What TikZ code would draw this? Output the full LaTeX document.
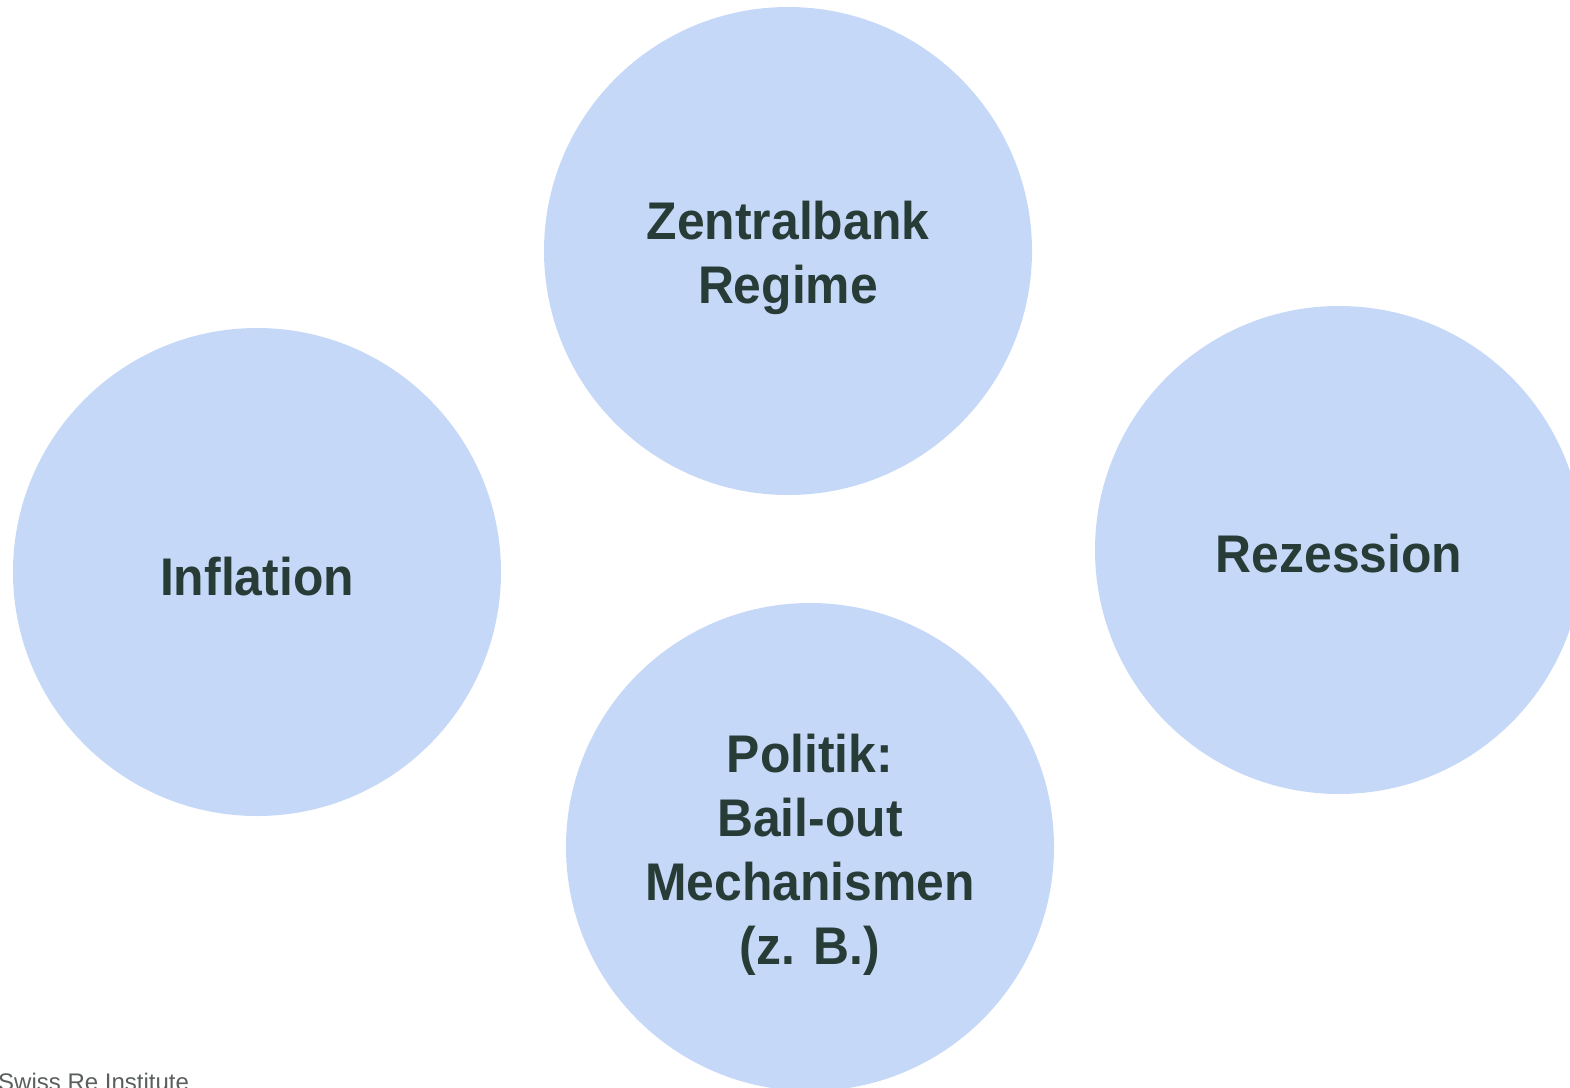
\documentclass[tikz,border=0pt]{standalone}
\usepackage{fontspec}
\setmainfont{Liberation Sans}
\newfontfamily\labelfont[FakeStretch=0.94]{Liberation Sans Bold}
\definecolor{bubble}{HTML}{C6D8F8}
\definecolor{labeltext}{HTML}{273C37}
\definecolor{credit}{HTML}{5A5F5E}
\begin{document}
\begin{tikzpicture}[x=1pt,y=-1pt,
  bubblenode/.style={circle, fill=bubble, draw=none, inner sep=0pt,
    minimum size=488pt},
  bubbletext/.style={inner sep=0pt, align=center, text=labeltext,
    font=\labelfont\fontsize{53}{64}\selectfont}]
  \clip (0,0) rectangle (1570,1087);
  \useasboundingbox (0,0) rectangle (1570,1087);
  % the four bubbles
  \node[bubblenode] (zentral) at (788,251) {};
  \node[bubblenode] (inflation) at (257,572) {};
  \node[bubblenode] (rezession) at (1339,550) {};
  \node[bubblenode] (politik) at (810,847) {};
  % their labels, set a little below the centres
  \node[bubbletext] (zentraltext) at ([yshift=-7pt]zentral.center) {Zentralbank\\Regime};
  \node[bubbletext] (inflationtext) at ([yshift=-5pt]inflation.center) {Inflation};
  \node[bubbletext] (rezessiontext) at ([yshift=-4pt]rezession.center) {Rezession};
  \node[bubbletext] (politiktext) at ([yshift=-8pt]politik.center) {Politik:\\Bail-out\\Mechanismen\\(z. B.)};
  % source line
  \node[anchor=base west, inner sep=0pt, text=credit,
    font=\fontsize{24}{28}\selectfont] (credit) at (-2,1090) {Swiss Re Institute};
\end{tikzpicture}
\end{document}
